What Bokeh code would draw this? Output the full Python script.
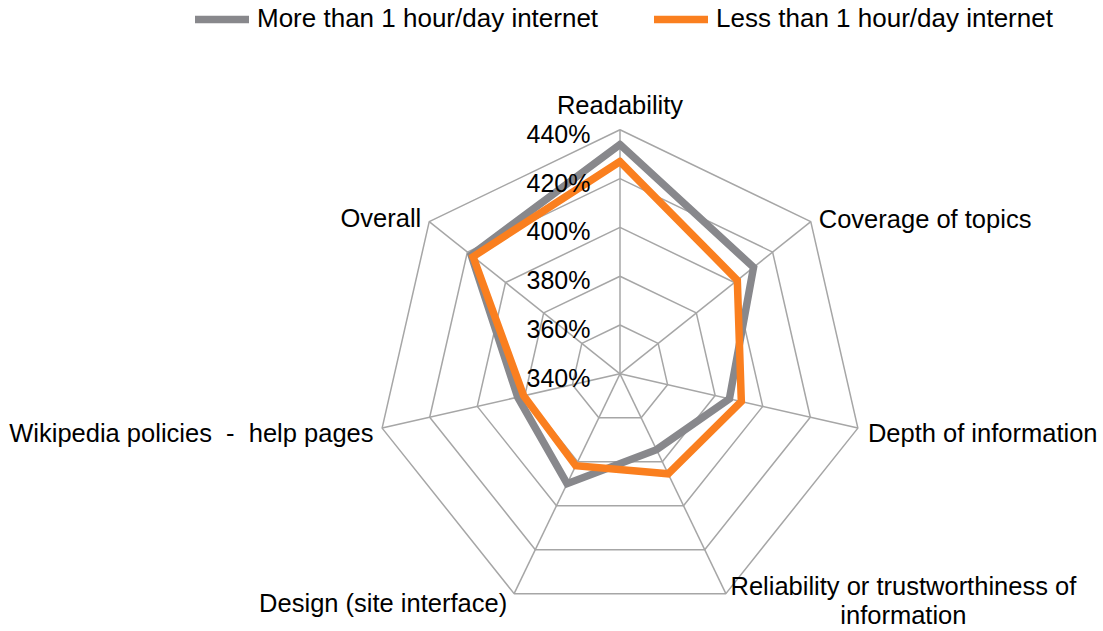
import numpy as np
from bokeh.plotting import figure
from bokeh.models import Range1d, Legend, LegendItem
from bokeh.embed import file_html
from bokeh.resources import INLINE
from bokeh.core.properties import value

# ---------------- data ----------------
categories = [
    "Readability",
    "Coverage of topics",
    "Depth of information",
    "Reliability or trustworthiness of\ninformation",
    "Design (site interface)",
    "Wikipedia policies\u00a0\u00a0-\u00a0\u00a0help pages",
    "Overall",
]
more_than_1h = [434.0, 410.0, 386.0, 374.5, 390.0, 383.0, 418.0]
less_than_1h = [427.0, 401.5, 391.0, 385.5, 381.8, 380.5, 417.0]
tick_values = [340, 360, 380, 400, 420, 440]
tick_labels = ["340%", "360%", "380%", "400%", "420%", "440%"]
series_names = ["More than 1 hour/day internet", "Less than 1 hour/day internet"]

# ---------------- layout ----------------
W, H = 1103, 631
CX, CY = 619.5, 257.7     # centre of radar in figure pixels (y up)
R = 244.0                 # radius of outer ring
VMIN, VMAX = tick_values[0], tick_values[-1]
FONT_NAME = "Liberation Sans"
FONT = value(FONT_NAME)
FS = "25.5px"
GRID = "#A6A6A6"
GRAY = "#88888C"
ORANGE = "#FA7F1F"

n = len(categories)
ang = np.pi / 2 - 2 * np.pi * np.arange(n) / n


def polar(vals):
    r = (np.asarray(vals, dtype=float) - VMIN) / (VMAX - VMIN) * R
    return CX + r * np.cos(ang), CY + r * np.sin(ang)


p = figure(width=W, height=H, x_range=Range1d(0, W), y_range=Range1d(0, H),
           output_backend="svg", toolbar_location=None, min_border=0,
           x_axis_location=None, y_axis_location=None)
p.grid.visible = False
p.outline_line_color = None
p.background_fill_color = "white"

# rings
for tv in tick_values[1:]:
    xs, ys = polar([tv] * n)
    p.line(list(xs) + [xs[0]], list(ys) + [ys[0]], line_color=GRID, line_width=1.5)
# spokes
tx, ty = polar([VMAX] * n)
p.segment(x0=[CX] * n, y0=[CY] * n, x1=tx, y1=ty, line_color=GRID, line_width=1.5)

# series
gx, gy = polar(more_than_1h)
ox, oy = polar(less_than_1h)
r_gray = p.line(list(gx) + [gx[0]], list(gy) + [gy[0]], line_color=GRAY,
                line_width=7.5, line_join="miter", line_cap="round")
r_orange = p.line(list(ox) + [ox[0]], list(oy) + [oy[0]], line_color=ORANGE,
                  line_width=7.5, line_join="miter", line_cap="round")

# radial tick labels (along the first spoke)
for tv, tl in zip(tick_values, tick_labels):
    r = (tv - VMIN) / (VMAX - VMIN) * R
    p.text(x=[CX - 29.5], y=[CY + r - 4], text=[tl], text_align="right",
           text_baseline="middle", text_font=FONT, text_font_size="25px",
           text_color="#000000")

# category labels: offsets relative to spoke tips (layout only)
label_layout = [
    (0, 11, "center", "bottom"),
    (8, 3, "left", "middle"),
    (10, -4.5, "left", "middle"),
    (177.5, 0, "center", "middle"),
    (-7, -9, "right", "middle"),
    (-8.6, -4.5, "right", "middle"),
    (-8, 4, "right", "middle"),
]
for k, (cat, (dx, dy, al, bl)) in enumerate(zip(categories, label_layout)):
    lines = cat.split("\n")
    for j, line in enumerate(lines):
        yy = ty[k] + dy
        if len(lines) > 1:
            yy = ty[k] + 7.5 - j * 29
        p.text(x=[tx[k] + dx], y=[yy], text=[line], text_align=al,
               text_baseline=bl, text_font=FONT, text_font_size=FS,
               text_color="#000000")

legend = Legend(items=[LegendItem(label=series_names[0], renderers=[r_gray]),
                       LegendItem(label=series_names[1], renderers=[r_orange])],
                orientation="horizontal", location=(195, 597),
                glyph_width=54, glyph_height=26, label_height=26,
                label_standoff=8, spacing=56, padding=0, margin=0,
                border_line_alpha=0, background_fill_alpha=0,
                label_text_font=FONT_NAME, label_text_font_size="26px",
                label_text_color="#000000")
p.add_layout(legend, "center")

html = file_html(p, INLINE)
open("out.html", "w").write(html)
